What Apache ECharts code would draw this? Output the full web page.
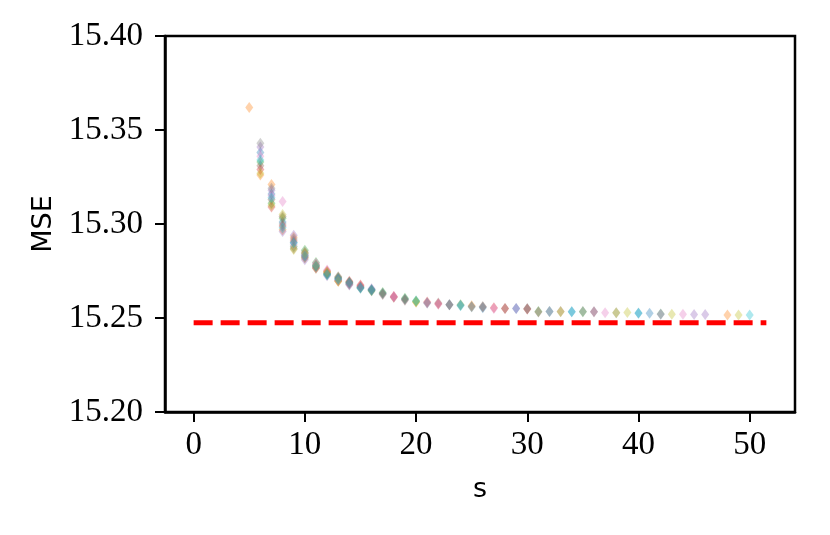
<!DOCTYPE html>
<html>
<head>
<meta charset="utf-8">
<script src="https://cdn.jsdelivr.net/npm/echarts@6/dist/echarts.min.js"></script>
<style>html,body{margin:0;padding:0;background:#fff;}#c{width:830px;height:535px;}</style>
</head>
<body>
<div id="c"></div>
<script>
// ---- data: [s, MSE] per run ----
const runA = [[6,15.338],[7,15.316],[8,15.301],[9,15.290],[10,15.284],[11,15.278],[12,15.2735],[13,15.271],[14,15.2685],[15,15.2665],[16,15.265],[17,15.263],[19,15.260],[23,15.257],[26,15.2555],[29,15.255],[32,15.2535],[34,15.2533],[40,15.2525],[41,15.2525]];
const runB = [[5,15.362],[6,15.326],[7,15.321],[8,15.297],[9,15.293],[10,15.282],[11,15.2765],[12,15.2745],[13,15.2695],[14,15.269],[15,15.267],[18,15.261],[20,15.2585],[25,15.2565],[48,15.2516]];
const runC = [[6,15.333],[7,15.311],[8,15.303],[9,15.288],[10,15.286],[11,15.2795],[12,15.273],[13,15.2715],[14,15.268],[15,15.266],[16,15.2645],[17,15.2635],[19,15.2605],[20,15.259],[24,15.257],[25,15.256],[31,15.2535],[35,15.2533],[42,15.2521]];
const runD = [[6,15.329],[7,15.309],[8,15.299],[9,15.291],[10,15.283],[11,15.277],[12,15.275],[13,15.270],[14,15.2695],[15,15.2675],[18,15.2615],[21,15.2585],[22,15.2575],[27,15.2555],[28,15.255],[30,15.2548]];
const runE = [[6,15.341],[7,15.318],[8,15.296],[9,15.294],[10,15.281],[11,15.2785],[12,15.2725],[13,15.2705],[14,15.2675],[15,15.266],[16,15.2655],[18,15.261],[21,15.258],[25,15.256],[29,15.255],[36,15.2533],[42,15.2520],[45,15.2518],[46,15.2518]];
const runF = [[6,15.331],[7,15.313],[8,15.304],[9,15.287],[10,15.285],[11,15.2775],[12,15.274],[13,15.272],[14,15.269],[16,15.265],[17,15.2625],[19,15.2595],[22,15.258],[23,15.257],[26,15.256],[28,15.255],[30,15.2548],[31,15.2532],[33,15.2535],[36,15.2533]];
const runG = [[6,15.336],[7,15.315],[8,15.312],[9,15.289],[10,15.2835],[11,15.279],[12,15.2755],[13,15.270],[14,15.268],[15,15.267],[18,15.2615],[22,15.2575],[27,15.255],[37,15.2528],[44,15.2520]];
const runH = [[6,15.343],[7,15.319],[8,15.300],[9,15.292],[10,15.282],[11,15.2765],[12,15.2735],[13,15.271],[14,15.2685],[15,15.2665],[16,15.2645],[17,15.263],[19,15.260],[21,15.258],[23,15.257],[24,15.2568],[26,15.256],[30,15.255],[32,15.2535],[35,15.2535],[38,15.2528]];
const runI = [[6,15.327],[7,15.310],[8,15.305],[9,15.2865],[10,15.2845],[11,15.278],[12,15.2745],[13,15.2695],[20,15.2585],[33,15.2533],[38,15.2528],[39,15.2529],[43,15.2520],[49,15.2516]];
const runJ = [[6,15.334],[7,15.314],[8,15.298],[9,15.290],[10,15.283],[11,15.2775],[12,15.273],[13,15.2705],[14,15.269],[15,15.266],[16,15.265],[20,15.259],[24,15.2565],[34,15.2533],[40,15.2527],[50,15.2516]];
const runs = [runA, runB, runC, runD, runE, runF, runG, runH, runI, runJ];
const runColors = ['#1f77b4','#ff7f0e','#2ca02c','#d62728','#9467bd','#8c564b','#e377c2','#7f7f7f','#bcbd22','#17becf'];
const baseline = [[0,15.2475],[51.5,15.2475]];
const xTicks = [0,10,20,30,40,50];

const chart = echarts.init(document.getElementById('c'), null, {renderer:'canvas'});
const labelFont = {fontFamily:'Liberation Serif', fontSize:33, color:'#000'};
const series = [{
  type:'line', data: baseline, symbol:'none', z:1,
  lineStyle:{color:'#ff0000', width:5, type:[19,8]}
}];
runs.forEach((r,i)=>series.push({
  type:'scatter', data:r, symbol:'diamond', symbolSize:[8,11], z:2,
  itemStyle:{color:runColors[i], opacity:0.35}
}));
chart.setOption({
  animation:false,
  backgroundColor:'#fff',
  grid:{left:165, right:35, top:36, bottom:123, show:true, borderColor:'#000', borderWidth:2.5, backgroundColor:'transparent'},
  xAxis:{type:'value', min:-2.575, max:54.075,
    name:'s', nameLocation:'middle', nameGap:64,
    nameTextStyle:{fontFamily:'DejaVu Sans', fontSize:27, color:'#000'},
    axisLine:{show:true, onZero:false, lineStyle:{color:'#000', width:2.5}},
    axisTick:{show:true, customValues:xTicks, length:10, lineStyle:{color:'#000', width:2}},
    axisLabel:Object.assign({customValues:xTicks, margin:17}, labelFont),
    splitLine:{show:false}},
  yAxis:{type:'value', min:15.20, max:15.40, interval:0.05,
    name:'MSE', nameLocation:'middle', nameGap:108, nameRotate:90,
    nameTextStyle:{fontFamily:'DejaVu Sans', fontSize:27, color:'#000'},
    axisLine:{show:true, onZero:false, lineStyle:{color:'#000', width:2.5}},
    axisTick:{show:true, length:10, lineStyle:{color:'#000', width:2}},
    axisLabel:Object.assign({margin:22, formatter:v=>v.toFixed(2)}, labelFont),
    splitLine:{show:false}},
  series: series
});
</script>
</body>
</html>
